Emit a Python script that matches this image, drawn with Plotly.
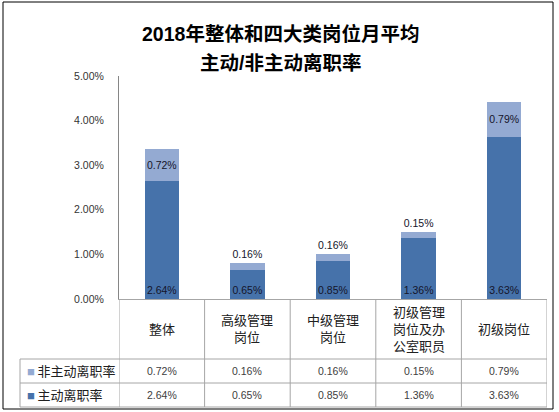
import plotly.graph_objects as go

# data
categories = ["整体", "高级管理岗位", "中级管理岗位", "初级管理岗位及办公室职员", "初级岗位"]
table_labels = ["整体", "高级管理<br>岗位", "中级管理<br>岗位", "初级管理<br>岗位及办<br>公室职员", "初级岗位"]
voluntary = [0.0264, 0.0065, 0.0085, 0.0136, 0.0363]      # 主动离职率
involuntary = [0.0072, 0.0016, 0.0016, 0.0015, 0.0079]    # 非主动离职率
series_names = ["非主动离职率", "主动离职率"]
title_lines = ["2018年整体和四大类岗位月平均", "主动/非主动离职率"]

DARK = "#4672AA"
LIGHT = "#94AAD2"
GRID = "#A6A6A6"
FONT = "Liberation Sans, Noto Sans CJK SC, sans-serif"

# page geometry in pixels
W, H = 559, 412
PL, PR, PT, PB = 119, 547, 76, 299
ROW_CAT, ROW1, ROW2 = 359, 383, 407
LEG_X = 20


def px(x):
    return (x - PL) / (PR - PL)


def py(y):
    return (PB - y) / (PB - PT)


def pct(v):
    return f"{v * 100:.2f}%"


def note(text, x, y, size, color, xref="paper", xanchor="center"):
    return dict(text=text, xref=xref, yref="paper", x=x, y=y, showarrow=False,
                xanchor=xanchor, yanchor="middle",
                font=dict(size=size, color=color, family=FONT))


fig = go.Figure()

fig.add_trace(go.Bar(
    x=categories, y=voluntary, name=series_names[1],
    marker=dict(color=DARK, line=dict(width=0)),
    text=[pct(v) for v in voluntary], textposition="inside",
    insidetextanchor="start", textangle=0,
    textfont=dict(color="#15152a", size=10.5, family=FONT),
))
fig.add_trace(go.Bar(
    x=categories, y=involuntary, name=series_names[0],
    marker=dict(color=LIGHT, line=dict(width=0)),
    text=[pct(v) for v in involuntary],
    textposition=["inside" if v > 0.005 else "outside" for v in involuntary],
    insidetextanchor="middle", textangle=0,
    textfont=dict(color="#15152a", size=10.5, family=FONT),
    cliponaxis=False,
))

shapes = []
# table horizontal lines
for y in (ROW_CAT, ROW1, ROW2):
    shapes.append(dict(type="line", xref="paper", yref="paper",
                       x0=px(LEG_X), x1=1, y0=py(y), y1=py(y),
                       line=dict(color=GRID, width=1)))
# column borders
for i in range(len(categories) + 1):
    shapes.append(dict(type="line", xref="x", yref="paper",
                       x0=i - 0.5, x1=i - 0.5, y0=0, y1=py(ROW2),
                       line=dict(color=GRID, width=1)))
shapes.append(dict(type="line", xref="paper", yref="paper",
                   x0=px(LEG_X), x1=px(LEG_X), y0=py(ROW_CAT), y1=py(ROW2),
                   line=dict(color=GRID, width=1)))
# outer frame
shapes.append(dict(type="rect", xref="paper", yref="paper",
                   x0=px(3), x1=px(553), y0=py(2), y1=py(409),
                   line=dict(color="#000000", width=1)))

annotations = [
    note("<b>" + title_lines[0] + "</b>", px(280), py(34), 19.5, "#000000"),
    note("<b>" + title_lines[1] + "</b>", px(280), py(63), 19.5, "#000000"),
]

for i, lab in enumerate(table_labels):
    annotations.append(note(lab, i, py((PB + ROW_CAT) / 2), 13, "#202020", xref="x"))
    annotations.append(note(pct(involuntary[i]), i, py((ROW_CAT + ROW1) / 2), 10.5,
                            "#404040", xref="x"))
    annotations.append(note(pct(voluntary[i]), i, py((ROW1 + ROW2) / 2), 10.5,
                            "#404040", xref="x"))

for name, color, (r0, r1) in ((series_names[0], LIGHT, (ROW_CAT, ROW1)),
                              (series_names[1], DARK, (ROW1, ROW2))):
    annotations.append(note(f"<span style='color:{color}'>■</span>\u2009{name}",
                            px(LEG_X + 5), py((r0 + r1) / 2), 13, "#202020",
                            xanchor="left"))

fig.update_layout(
    width=W, height=H,
    margin=dict(l=PL, r=W - PR, t=PT, b=H - PB, pad=0),
    barmode="stack", bargap=0.6,
    showlegend=False,
    paper_bgcolor="white", plot_bgcolor="white",
    font=dict(family=FONT, size=10, color="#333333"),
    uniformtext=dict(minsize=10, mode="show"),
    shapes=shapes, annotations=annotations,
)
fig.update_xaxes(showticklabels=False, showline=True, linecolor=GRID,
                 showgrid=False, zeroline=False, range=[-0.5, 4.5], fixedrange=True)
fig.update_yaxes(range=[0, 0.05], dtick=0.01, tickformat=".2%", showline=True,
                 linecolor="#868686", showgrid=False, zeroline=False,
                 ticklabelstandoff=12, tickfont=dict(size=10.5, color="#333333"))

fig.write_html("out.html", config={"displayModeBar": False},
               post_script="document.body.style.margin='0';")
